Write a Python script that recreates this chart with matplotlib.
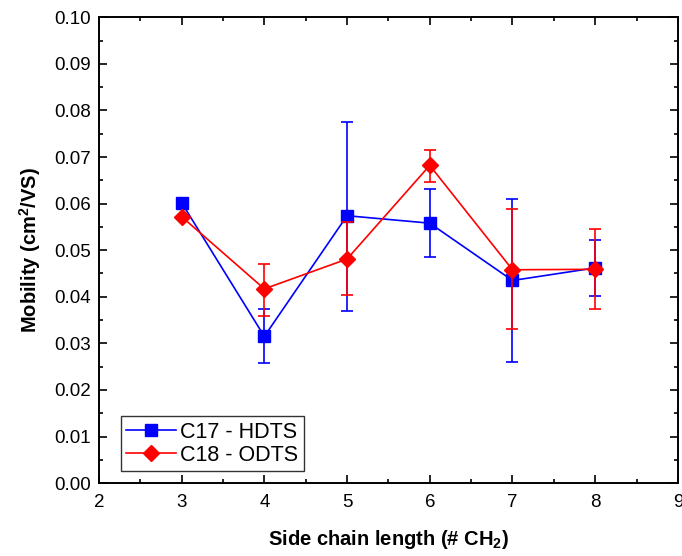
import matplotlib
matplotlib.use("Agg")
import matplotlib.pyplot as plt
import numpy as np
from matplotlib.ticker import MultipleLocator
from matplotlib.lines import Line2D

plt.rcParams['font.family'] = ['Liberation Sans', 'DejaVu Sans']
plt.rcParams['mathtext.fontset'] = 'custom'
plt.rcParams['mathtext.rm'] = 'Liberation Sans'
plt.rcParams['mathtext.bf'] = 'Liberation Sans:bold'
plt.rcParams['mathtext.default'] = 'regular'

x = [3, 4, 5, 6, 7, 8]
c17 = [0.0602, 0.0315, 0.0574, 0.0558, 0.0435, 0.0462]
c17_hi = [0.0602, 0.0373, 0.0776, 0.0631, 0.0610, 0.0521]
c17_lo = [0.0602, 0.0257, 0.0370, 0.0485, 0.0261, 0.0401]
c18 = [0.0572, 0.0417, 0.0481, 0.0682, 0.0458, 0.0459]
c18_hi = [0.0572, 0.0471, 0.0560, 0.0716, 0.0588, 0.0545]
c18_lo = [0.0572, 0.0359, 0.0403, 0.0647, 0.0331, 0.0374]
labels = ['C17 - HDTS', 'C18 - ODTS']

fig = plt.figure(figsize=(6.82, 5.56), dpi=100)
ax = fig.add_axes([0.145, 0.131, 0.849, 0.838])

def err(v, hi, lo):
    v = np.array(v); return [v - np.array(lo), np.array(hi) - v]

ax.errorbar(x, c17, yerr=err(c17, c17_hi, c17_lo), color='#0000ff', marker='s', ms=8,
            lw=1.2, capsize=4, capthick=1.2, elinewidth=1.2, zorder=2)
ax.errorbar(x, c18, yerr=err(c18, c18_hi, c18_lo), color='#ff0000', marker='D', ms=8,
            lw=1.2, capsize=4, capthick=1.2, elinewidth=1.2, zorder=3)

ax.set_xlim(2, 9)
ax.set_ylim(0, 0.10)
ax.xaxis.set_major_locator(MultipleLocator(1))
ax.xaxis.set_minor_locator(MultipleLocator(0.5))
ax.yaxis.set_major_locator(MultipleLocator(0.01))
ax.yaxis.set_minor_locator(MultipleLocator(0.005))
ax.yaxis.set_major_formatter(matplotlib.ticker.FormatStrFormatter('%.2f'))
ax.tick_params(which='both', direction='in', top=True, right=True, labelsize=13.5, width=1.2)
ax.tick_params(which='major', length=6)
ax.tick_params(which='minor', length=3)
ax.tick_params(axis='x', pad=8)
ax.tick_params(axis='y', pad=6)
for s in ax.spines.values():
    s.set_linewidth(1.4)

ax.set_xlabel('Side chain length (# CH$_\\mathbf{2}$)', fontsize=14.5, fontweight='bold', labelpad=12)
ax.set_ylabel('Mobility (cm$^\\mathbf{2}$/VS)', fontsize=14.5, fontweight='bold', labelpad=8)

handles = [Line2D([], [], color='#0000ff', marker='s', ms=8, lw=1.2),
           Line2D([], [], color='#ff0000', marker='D', ms=8, lw=1.2)]
leg = ax.legend(handles, labels, loc='lower left', bbox_to_anchor=(0.038, 0.026), fontsize=15.5,
                frameon=True, fancybox=False, edgecolor='black', borderaxespad=0,
                handlelength=2.3, handletextpad=0.2, borderpad=0.25, labelspacing=0.1)
leg.get_frame().set_linewidth(1.0)

fig.savefig('out.png', dpi=100)
